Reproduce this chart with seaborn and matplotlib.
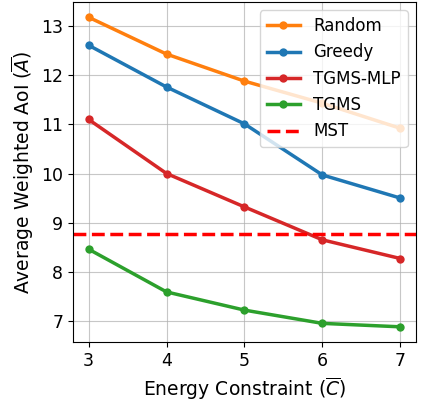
import pandas as pd
import matplotlib
matplotlib.use('Agg')
import matplotlib.pyplot as plt
import seaborn as sns

# values
energy = [3, 4, 5, 6, 7]
random_aoi = [13.18, 12.43, 11.88, 11.43, 10.92]
greedy_aoi = [12.61, 11.76, 11.01, 9.97, 9.50]
tgms_mlp_aoi = [11.10, 10.00, 9.32, 8.65, 8.27]
tgms_aoi = [8.46, 7.59, 7.22, 6.95, 6.88]
mst_aoi = 8.77

methods = ['Random', 'Greedy', 'TGMS-MLP', 'TGMS']
colors = ['#ff7f0e', '#1f77b4', '#d62728', '#2ca02c']

rows = []
for name, vals in zip(methods, [random_aoi, greedy_aoi, tgms_mlp_aoi, tgms_aoi]):
    for c, v in zip(energy, vals):
        rows.append({'energy': c, 'aoi': v, 'method': name})
df = pd.DataFrame(rows)

plt.rcParams['font.size'] = 12
fig, ax = plt.subplots(figsize=(4.27, 4.01), dpi=100)
fig.subplots_adjust(left=0.171, right=0.974, top=0.995, bottom=0.147)

sns.lineplot(data=df, x='energy', y='aoi', hue='method', hue_order=methods,
             palette=colors, marker='o', markersize=6, markeredgewidth=0,
             linewidth=2.5, ax=ax)
ax.axhline(mst_aoi, color='red', linestyle='--', linewidth=2.5, label='MST')

ax.set_xticks(energy)
ax.set_ylim(6.57, 13.49)
ax.grid(True, color='#b0b0b0', linewidth=0.8, alpha=0.7)
ax.set_xlabel(r'Energy Constraint ($\overline{C}$)', fontsize=13.5)
ax.set_ylabel(r'Average Weighted AoI ($\overline{A}$)', fontsize=13.5)
ax.tick_params(labelsize=12.5)
ax.legend(loc='upper right', fontsize=12)

plt.savefig('out.png', dpi=100)
